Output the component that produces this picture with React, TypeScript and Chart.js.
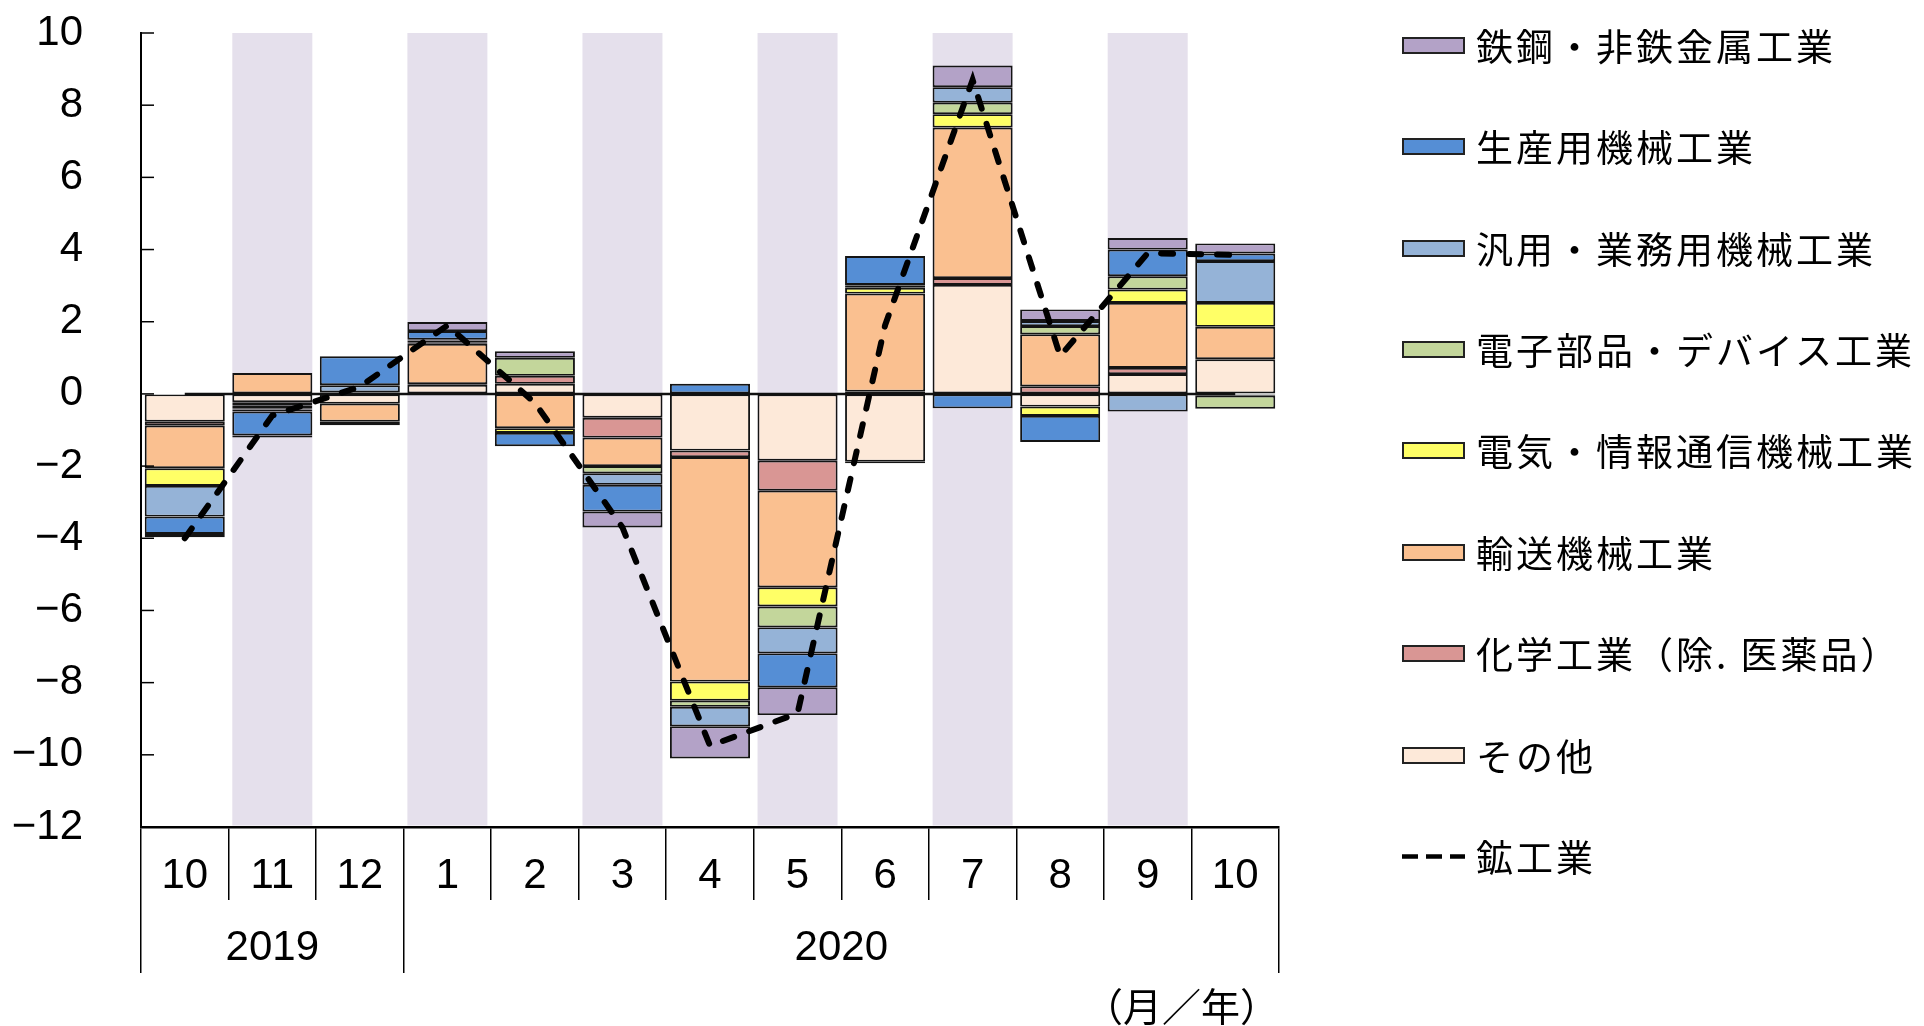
import React, { useEffect, useRef } from 'react';
import { Chart, registerables } from 'chart.js';

Chart.register(...registerables);

// ---------- data ----------
const months = ['10', '11', '12', '1', '2', '3', '4', '5', '6', '7', '8', '9', '10'];
const years = ['2019', '2020'];
const yearFirstMonth = [0, 3];
const yearLastMonth = [2, 12];
const yTickMin = -12;
const yTickMax = 10;
const yTickStep = 2;

// stacking order (from zero outward)
const others = [-0.77, -0.23, -0.27, 0.25, 0.28, -0.66, -1.57, -1.85, -1.88, 3.02, -0.35, 0.55, 0.96];
const chemicals = [-0.11, -0.1, 0, 0.02, 0.22, -0.55, -0.18, -0.83, 0.06, 0.19, 0.21, 0.17, -0.05];
const transport = [-1.18, 0.58, -0.5, 1.12, -0.95, -0.79, -6.22, -2.68, 2.72, 4.17, 1.44, 1.8, 0.9];
const electrical = [-0.49, -0.07, 0, 0.03, -0.13, 0, -0.53, -0.53, 0.16, 0.37, -0.26, 0.37, 0.66];
const electronic = [0, -0.03, 0.04, 0.06, 0.5, -0.2, -0.17, -0.58, 0.06, 0.32, 0.23, 0.37, -0.36];
const general = [-0.85, -0.06, 0.2, 0.02, 0, -0.32, -0.54, -0.72, 0.02, 0.43, 0.14, -0.49, 1.16];
const production = [-0.48, -0.66, 0.8, 0.24, -0.37, -0.74, 0.28, -0.94, 0.8, -0.4, -0.72, 0.74, 0.21];
const steel = [-0.09, -0.06, -0.1, 0.25, 0.18, -0.44, -0.89, -0.77, -0.04, 0.6, 0.32, 0.32, 0.28];
const mining = [-4.0, -0.6, 0.2, 1.9, -0.25, -3.7, -9.75, -8.85, 1.9, 8.7, 1.05, 3.9, 3.85];
const zeroLine = [0, 0, 0, 0, 0, 0, 0, 0, 0, 0, 0, 0, 0];

const barSeries = [
  { label: 'その他', data: others, color: '#fde9d9' },
  { label: '化学工業（除. 医薬品）', data: chemicals, color: '#d99694' },
  { label: '輸送機械工業', data: transport, color: '#fac090' },
  { label: '電気・情報通信機械工業', data: electrical, color: '#ffff66' },
  { label: '電子部品・デバイス工業', data: electronic, color: '#c3d69b' },
  { label: '汎用・業務用機械工業', data: general, color: '#95b3d7' },
  { label: '生産用機械工業', data: production, color: '#558ed5' },
  { label: '鉄鋼・非鉄金属工業', data: steel, color: '#b3a2c7' },
];
const lineLabel = '鉱工業';
const unitLabel = '（月／年）';

// ---------- styles ----------
const NUMFONT = '"Liberation Sans", Arial, sans-serif';
const CJK = '"Noto Sans CJK JP", "Noto Sans", sans-serif';
const NUMSIZE = 42;
const BAR_PCT = 0.914;
const BAND_COLOR = '#e5e0ec';
const CLEAR = 'rgba(0,0,0,0)';

const fmtY = (v: number) => (v < 0 ? '\u2212' + Math.abs(v) : String(v));

export default function App() {
  const ref = useRef<HTMLCanvasElement>(null);

  useEffect(() => {
    document.body.style.margin = '0';
    const canvas = ref.current!;

    const boundaries = [
      ...yearFirstMonth.map((m) => m - 0.5),
      yearLastMonth[yearLastMonth.length - 1] + 0.5,
    ];
    const centers = years.map((_, i) => (yearFirstMonth[i] + yearLastMonth[i]) / 2);
    const x2Ticks = [...boundaries, ...centers].sort((a, b) => a - b);

    const decoPlugin = {
      id: 'deco',
      beforeDatasetsDraw(chart: any) {
        const { ctx, chartArea, scales } = chart;
        const xs = scales.x;
        const w = (xs.width / months.length) * BAR_PCT;
        ctx.save();
        ctx.fillStyle = BAND_COLOR;
        months.forEach((_, i) => {
          if (i % 2 === 1) {
            const cx = xs.getPixelForValue(i);
            ctx.fillRect(cx - w / 2, chartArea.top, w, chartArea.bottom - chartArea.top - 1.5);
          }
        });
        ctx.restore();
      },
      afterDatasetsDraw(chart: any) {
        const { ctx, chartArea, scales } = chart;
        const ys = scales.y;
        ctx.save();
        ctx.strokeStyle = '#000';
        ctx.lineWidth = 1.5;
        ys.ticks.forEach((t: any) => {
          const py = ys.getPixelForValue(t.value);
          ctx.beginPath();
          ctx.moveTo(chartArea.left, py);
          ctx.lineTo(chartArea.left + 13, py);
          ctx.stroke();
        });
        ctx.restore();
      },
    };

    const datasets: any[] = [
      {
        type: 'line',
        label: lineLabel,
        data: mining,
        borderColor: '#000',
        borderWidth: 6,
        borderDash: [12, 16],
        borderCapStyle: 'round',
        pointRadius: 0,
        tension: 0,
        fill: false,
        order: 0,
        stack: 'mining',
        xAxisID: 'x',
        yAxisID: 'y',
      },
      {
        type: 'line',
        label: 'zero',
        data: zeroLine,
        borderColor: '#111',
        borderWidth: 2.5,
        pointRadius: 0,
        fill: false,
        order: 1,
        stack: 'zero',
        xAxisID: 'x',
        yAxisID: 'y',
      },
      ...barSeries.map((s) => ({
        type: 'bar',
        label: s.label,
        data: s.data.map((v) => (v === 0 ? null : v)),
        backgroundColor: s.color,
        borderColor: '#141414',
        borderWidth: 1.9,
        borderSkipped: false,
        barPercentage: BAR_PCT,
        categoryPercentage: 1,
        order: 2,
        stack: 'bars',
        xAxisID: 'x',
        yAxisID: 'y',
      })),
    ];

    const chart = new Chart(canvas, {
      type: 'bar',
      data: { labels: months, datasets },
      options: {
        responsive: false,
        animation: false,
        layout: { padding: { left: 0, right: 645, top: 33, bottom: 0 } },
        plugins: { legend: { display: false }, tooltip: { enabled: false } },
        scales: {
          x: {
            type: 'category',
            position: 'bottom',
            stacked: true,
            offset: true,
            weight: 1,
            grid: {
              offset: true,
              drawOnChartArea: false,
              drawTicks: true,
              tickLength: 73,
              color: '#000',
              lineWidth: 1.5,
            },
            border: { display: true, color: '#000', width: 2.5 },
            ticks: {
              padding: -45,
              color: '#000',
              font: { family: NUMFONT, size: NUMSIZE, lineHeight: 1 },
              maxRotation: 0,
              autoSkip: false,
            },
            afterFit: (s: any) => {
              s.height = 73;
            },
          },
          x2: {
            type: 'linear',
            position: 'bottom',
            min: boundaries[0],
            max: boundaries[boundaries.length - 1],
            offset: false,
            weight: 2,
            grid: {
              offset: false,
              drawOnChartArea: false,
              drawTicks: true,
              tickLength: 73,
              lineWidth: 1.5,
              color: (c: any) =>
                c.tick && boundaries.includes(c.tick.value) ? '#000' : CLEAR,
            },
            border: { display: false },
            ticks: {
              padding: -46,
              color: '#000',
              font: { family: NUMFONT, size: NUMSIZE, lineHeight: 1 },
              maxRotation: 0,
              autoSkip: false,
              callback: (v: any) => {
                const i = centers.indexOf(Number(v));
                return i >= 0 ? years[i] : '';
              },
            },
            afterBuildTicks: (s: any) => {
              s.ticks = x2Ticks.map((v) => ({ value: v }));
            },
            title: {
              display: true,
              text: unitLabel,
              align: 'end',
              color: '#000',
              font: { family: CJK, size: 39, lineHeight: 1 },
              padding: { top: 0, bottom: 0 },
            },
            afterFit: (s: any) => {
              s.height = 126;
            },
          },
          y: {
            type: 'linear',
            stacked: true,
            min: yTickMin,
            max: yTickMax,
            ticks: {
              stepSize: yTickStep,
              padding: 0,
              color: '#000',
              font: { family: NUMFONT, size: NUMSIZE, lineHeight: 1 },
              callback: (v: any) => fmtY(Number(v)),
            },
            grid: {
              drawOnChartArea: false,
              drawTicks: true,
              tickLength: 58,
              color: CLEAR,
              tickColor: CLEAR,
            },
            border: { display: true, color: '#000', width: 2 },
            afterFit: (s: any) => {
              s.width = 141;
            },
          },
        },
      } as any,
      plugins: [decoPlugin],
    });

    return () => chart.destroy();
  }, []);

  const legendItems = [...barSeries].reverse();
  const rowH = 101.4;
  const textStyle: React.CSSProperties = {
    fontFamily: CJK,
    fontSize: 37,
    letterSpacing: 3,
    lineHeight: 1,
    whiteSpace: 'nowrap',
    color: '#000',
  };

  return (
    <div style={{ position: 'relative', width: 1924, height: 1026, overflow: 'hidden', background: '#fff' }}>
      <canvas ref={ref} width={1924} height={1026} style={{ display: 'block', width: 1924, height: 1026 }} />
      <div style={{ position: 'absolute', left: 1402, top: 45.4 - rowH / 2 }}>
        {legendItems.map((s) => (
          <div key={s.label} style={{ display: 'flex', alignItems: 'center', height: rowH }}>
            <div
              style={{
                width: 63,
                height: 17,
                boxSizing: 'border-box',
                border: '2px solid #222',
                background: s.color,
                marginRight: 11,
              }}
            />
            <span style={textStyle}>{s.label}</span>
          </div>
        ))}
        <div style={{ display: 'flex', alignItems: 'center', height: rowH }}>
          <svg width={63} height={17} style={{ marginRight: 11, display: 'block' }}>
            <line x1={0} y1={8.5} x2={63} y2={8.5} stroke="#000" strokeWidth={4.5} strokeDasharray="16 8" />
          </svg>
          <span style={textStyle}>{lineLabel}</span>
        </div>
      </div>
    </div>
  );
}
